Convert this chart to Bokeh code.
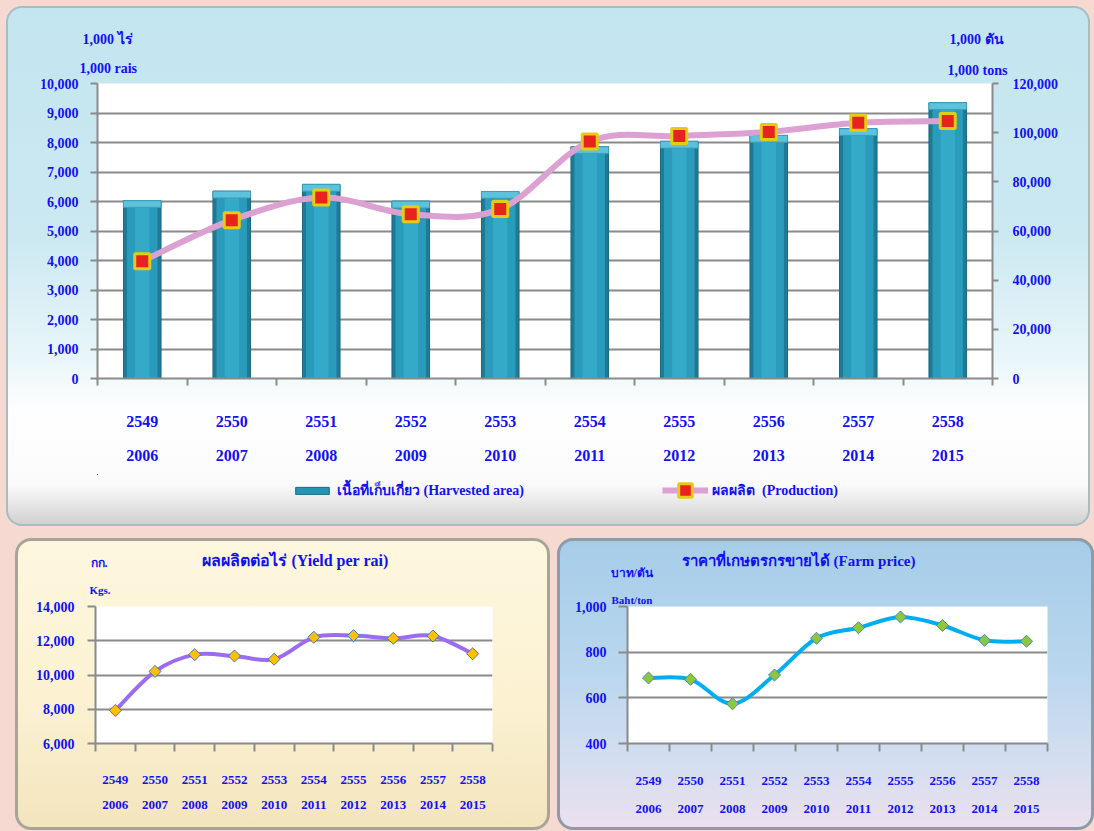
import numpy as np
from bokeh.plotting import figure
from bokeh.models import (LinearAxis, Range1d, FixedTicker, NumeralTickFormatter,
                          Label, Legend, LegendItem, Spacer)
from bokeh.layouts import column, row
from bokeh.embed import file_html
from bokeh.resources import INLINE

# ---------------- data ----------------
buddhist_years = ["2549", "2550", "2551", "2552", "2553", "2554", "2555", "2556", "2557", "2558"]
gregorian_years = ["2006", "2007", "2008", "2009", "2010", "2011", "2012", "2013", "2014", "2015"]
harvested_area = [6030, 6350, 6580, 6010, 6340, 7860, 8040, 8240, 8470, 9350]          # 1,000 rai
production = [47700, 64400, 73600, 66800, 68900, 96400, 98600, 100300, 104000, 104700]  # 1,000 tons
yield_per_rai = [7930, 10210, 11190, 11110, 10920, 12200, 12300, 12140, 12280, 11240]  # kg
farm_price = [687, 681, 574, 700, 861, 907, 954, 917, 852, 848]                         # baht/ton

area_ticks = list(range(0, 10001, 1000))
prod_ticks = list(range(0, 120001, 20000))
yield_ticks = list(range(6000, 14001, 2000))
price_ticks = list(range(400, 1001, 200))

FONT = "Liberation Serif"
BLUE = "#1111f2"
GRID = "#8a8a8a"

xs = list(range(len(buddhist_years)))
bound_ticks = [i - 0.5 for i in range(len(buddhist_years) + 1)]


def smooth(xv, yv):
    """Bezier segments (Catmull-Rom style, like spreadsheet smoothed lines)."""
    n = len(xv)
    out = dict(x0=[], y0=[], x1=[], y1=[], cx0=[], cy0=[], cx1=[], cy1=[])
    for i in range(n - 1):
        a = i - 1 if i > 0 else i
        d = i + 2 if i + 2 < n else i + 1
        out["x0"].append(xv[i]); out["y0"].append(yv[i])
        out["x1"].append(xv[i + 1]); out["y1"].append(yv[i + 1])
        out["cx0"].append(xv[i] + (xv[i + 1] - xv[a]) / 6.0)
        out["cy0"].append(yv[i] + (yv[i + 1] - yv[a]) / 6.0)
        out["cx1"].append(xv[i + 1] - (xv[d] - xv[i]) / 6.0)
        out["cy1"].append(yv[i + 1] - (yv[d] - yv[i]) / 6.0)
    return out


def make_fig(w, h, lb, rb, tb, bb, yr, styles=None):
    kw = dict(styles=styles) if styles else {}
    p = figure(width=w, height=h, x_range=Range1d(-0.5, 9.5), y_range=yr,
               output_backend="svg", toolbar_location=None,
               min_border_left=lb, min_border_right=rb, min_border_top=tb, min_border_bottom=bb, **kw)
    p.border_fill_alpha = 0
    p.background_fill_color = "white"
    p.outline_line_color = None
    p.xgrid.visible = False
    return p


def style_y(ax, ticks, fsize, tick_out, standoff):
    ax.ticker = FixedTicker(ticks=ticks)
    ax.formatter = NumeralTickFormatter(format="0,0")
    ax.axis_line_color = GRID
    ax.axis_line_width = 2
    ax.major_tick_line_color = GRID
    ax.major_tick_line_width = 2
    ax.major_tick_out = tick_out
    ax.major_tick_in = 0
    ax.minor_tick_line_color = None
    ax.major_label_text_font = FONT
    ax.major_label_text_font_style = "bold"
    ax.major_label_text_font_size = f"{fsize}px"
    ax.major_label_text_color = BLUE
    ax.major_label_standoff = standoff


def style_x(p, fsize, s1, s2, tick_out):
    ax = p.xaxis[0]
    ax.ticker = FixedTicker(ticks=xs, minor_ticks=bound_ticks)
    ax.major_label_overrides = {i: t for i, t in zip(xs, buddhist_years)}
    ax.axis_line_color = GRID
    ax.axis_line_width = 2
    ax.major_tick_line_color = None
    ax.major_tick_out = 0
    ax.major_tick_in = 0
    ax.minor_tick_line_color = GRID
    ax.minor_tick_line_width = 2
    ax.minor_tick_out = tick_out
    ax.minor_tick_in = 0
    ax.major_label_standoff = s1
    ax2 = LinearAxis(ticker=FixedTicker(ticks=xs),
                     major_label_overrides={i: t for i, t in zip(xs, gregorian_years)})
    ax2.axis_line_color = None
    ax2.major_tick_line_color = None
    ax2.minor_tick_line_color = None
    ax2.major_tick_out = 0
    ax2.major_tick_in = 0
    ax2.major_label_standoff = s2
    for a in (ax, ax2):
        a.major_label_text_font = FONT
        a.major_label_text_font_style = "bold"
        a.major_label_text_font_size = f"{fsize}px"
        a.major_label_text_color = BLUE
    p.add_layout(ax2, "below")


def make_label(x, y, text, size, align="left"):
    # canvas units (top-left origin); added to a side panel so it is not clipped to the frame
    return Label(x=x, y=y, x_units="canvas", y_units="canvas", text=text,
                 text_font=FONT, text_font_style="bold", text_font_size=f"{size}px",
                 text_color=BLUE, text_align=align, text_baseline="middle")


def style_legend(lg):
    lg.padding = 0
    lg.margin = 0
    lg.label_standoff = 4
    lg.label_text_font = FONT
    lg.label_text_font_style = "bold"
    lg.label_text_font_size = "14px"
    lg.label_text_color = BLUE
    lg.background_fill_alpha = 0
    lg.border_line_alpha = 0


# ---------------- top chart ----------------
W_TOP = 1084
p1 = make_fig(W_TOP, 468, 91, 98, 77, 96, Range1d(0, 10000))
p1.extra_y_ranges = {"prod": Range1d(0, 120000)}

style_y(p1.yaxis[0], area_ticks, 14, 7, 12)
p1.ygrid.ticker = FixedTicker(ticks=area_ticks)
p1.ygrid.grid_line_color = GRID
p1.ygrid.grid_line_width = 2

rax = LinearAxis(y_range_name="prod")
style_y(rax, prod_ticks, 14, 6, 14)
p1.add_layout(rax, "right")

style_x(p1, 16, 30, 20, 7)

BAR_KW = dict(fill_color="#2593b3", line_color="#1a6a82", line_width=1)
LINE_KW = dict(line_color="#dca0d2", line_width=6)
MARK_KW = dict(marker="square", fill_color="#e8231f", line_color="#e3cd12", line_width=3)

# bars (layered for a cylinder look)
p1.vbar(x=xs, top=harvested_area, width=0.42, fill_color="#1f7a95", line_color="#1a6a82", line_width=1)
p1.vbar(x=xs, top=harvested_area, width=0.34, fill_color="#2a9bbb", line_color=None)
p1.vbar(x=xs, top=harvested_area, width=0.16, fill_color="#35a9c8", line_color=None)
p1.vbar(x=xs, top=harvested_area, bottom=[a - 230 for a in harvested_area], width=0.42,
        fill_color="#5fc2dc", line_color="#3a9fbb", line_width=1)

p1.bezier(**smooth(xs, production), y_range_name="prod", **LINE_KW)
p1.scatter(xs, production, y_range_name="prod", size=15, **MARK_KW)

p1.add_layout(make_label(76, 33, "1,000 ไร่", 14), "above")
p1.add_layout(make_label(73, 62, "1,000 rais", 14), "above")
p1.add_layout(make_label(943, 33, "1,000 ตัน", 14), "above")
p1.add_layout(make_label(941, 64, "1,000 tons", 14), "above")

# legend strip: a frame-only figure whose proxy glyphs lie outside its (empty) view range
legfig = figure(width=W_TOP, height=52, x_range=Range1d(50, 51), y_range=Range1d(-200000, -100000),
                output_backend="svg", toolbar_location=None,
                x_axis_location=None, y_axis_location=None,
                min_border_left=0, min_border_right=0, min_border_top=0, min_border_bottom=0)
legfig.border_fill_alpha = 0
legfig.background_fill_alpha = 0
legfig.outline_line_color = None
legfig.grid.visible = False
lg_bar = legfig.vbar(x=xs, top=harvested_area, width=0.4, **BAR_KW)
lg_line = legfig.line(xs, production, **LINE_KW)
lg_pts = legfig.scatter(xs, production, size=15, **MARK_KW)

leg1 = Legend(items=[LegendItem(label="เนื้อที่เก็บเกี่ยว (Harvested area)", renderers=[lg_bar])],
              location=(194, 25))
style_legend(leg1)
leg1.glyph_width = 42
leg1.glyph_height = 9
leg2 = Legend(items=[LegendItem(label="ผลผลิต  (Production)", renderers=[lg_line, lg_pts])],
              location=(565, 19))
style_legend(leg2)
leg2.glyph_width = 46
leg2.glyph_height = 34
legfig.add_layout(leg1, "center")
legfig.add_layout(leg2, "center")

top_panel = column(p1, legfig, styles={
    "border-radius": "16px", "overflow": "hidden",
    "background": "linear-gradient(to bottom, #c3e5ef 0%, #cce9f2 45%, #e9f6f9 68%, #ffffff 78%, #fbfbfb 92%, #cfcfcf 100%)",
    "box-shadow": "inset 0 0 0 2px #a9bcc2",
})

# ---------------- yield chart ----------------
yield_styles = {
    "border-radius": "16px", "overflow": "hidden",
    "background": "linear-gradient(to bottom, #fdf7df 0%, #fcf2d2 55%, #f2e4bd 100%)",
    "box-shadow": "inset 0 0 0 3px #a8a49a",
}
p2 = make_fig(535, 292, 80, 58, 65, 87, Range1d(6000, 14000), yield_styles)
style_y(p2.yaxis[0], yield_ticks, 14, 8, 13)
p2.ygrid.ticker = FixedTicker(ticks=yield_ticks)
p2.ygrid.grid_line_color = GRID
p2.ygrid.grid_line_width = 2
style_x(p2, 13, 24, 14, 8)
p2.bezier(**smooth(xs, yield_per_rai), line_color="#9b6cf0", line_width=4)
p2.scatter(xs, yield_per_rai, marker="square", angle=np.pi / 4, size=8.5,
           fill_color="#ffc000", line_color="#3f7bbd", line_width=1)
p2.add_layout(make_label(280, 22, "ผลผลิตต่อไร่ (Yield per rai)", 16, "center"), "above")
p2.add_layout(make_label(75, 24, "กก.", 12), "above")
p2.add_layout(make_label(74, 51, "Kgs.", 11), "right")

# ---------------- farm price chart ----------------
price_styles = {
    "border-radius": "16px", "overflow": "hidden",
    "background": "linear-gradient(to bottom, #a6cde8 0%, #b9d6ee 45%, #d3def0 75%, #ece0ee 100%)",
    "box-shadow": "inset 0 0 0 3px #8f9ba6",
}
p3 = make_fig(537, 292, 70, 47, 68, 84, Range1d(400, 1000), price_styles)
style_y(p3.yaxis[0], price_ticks, 14, 9, 12)
p3.ygrid.ticker = FixedTicker(ticks=price_ticks)
p3.ygrid.grid_line_color = GRID
p3.ygrid.grid_line_width = 2
style_x(p3, 13, 25, 17, 8)
p3.bezier(**smooth(xs, farm_price), line_color="#00aeef", line_width=4)
p3.scatter(xs, farm_price, marker="square", angle=np.pi / 4, size=8.5,
           fill_color="#8dc63f", line_color="#4f81bd", line_width=1)
p3.add_layout(make_label(243, 22, "ราคาที่เกษตรกรขายได้  (Farm price)", 15, "center"), "above")
p3.add_layout(make_label(53, 34, "บาท/ตัน", 12), "above")
p3.add_layout(make_label(54, 61, "Baht/ton", 11), "above")

root = column(
    Spacer(width=1090, height=6),
    row(Spacer(width=6, height=520), top_panel),
    Spacer(width=1090, height=12),
    row(Spacer(width=15, height=292), p2, Spacer(width=7, height=292), p3),
)

html = file_html(root, INLINE, title="Sugarcane")
html = html.replace("<head>", "<head><style>html,body{background:#f6d9d0;}</style>", 1)
open("out.html", "w").write(html)
